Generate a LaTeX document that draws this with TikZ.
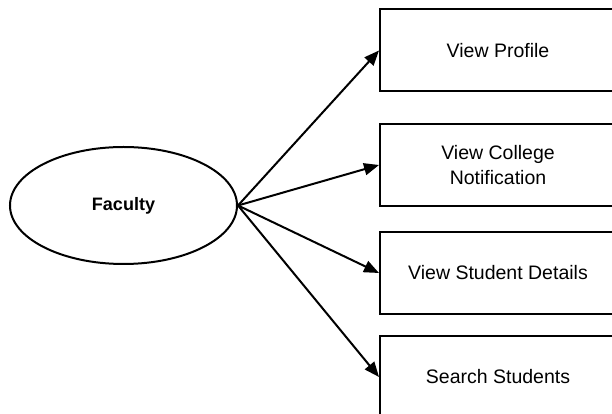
\documentclass[tikz,border=0pt]{standalone}
\usepackage{fontspec}
\setmainfont{Liberation Sans}
\usetikzlibrary{arrows.meta, positioning, shapes.geometric}
\tikzset{actor/.style={ellipse, draw, line width=2pt, minimum width=227pt, minimum height=117pt, inner sep=0pt, font=\fontsize{18}{22}\selectfont\bfseries},
  usecase/.style={rectangle, draw, line width=2pt, minimum width=236pt, minimum height=82pt, align=center, font=\fontsize{19.5}{24.5}\selectfont},
  >={Triangle[length=15pt, width=12pt]}}

\begin{document}
\begin{tikzpicture}[x=1pt, y=1pt]
            \useasboundingbox (0,0) rectangle (612,414);
            \clip (0,0) rectangle (612,414);
            \node[actor] (faculty) at (123.5,208.5) {Faculty};
            \node[usecase] (view_profile) at (498,363.5) {View Profile};
            \node[usecase, below=30.5pt of view_profile] (view_notification) {View College\\Notification};
            \node[usecase, below=24pt of view_notification] (view_details) {View Student Details};
            \node[usecase, below=20pt of view_details] (search_students) {Search Students};
            \draw[line width=2pt] (faculty.east) edge[->] (view_profile.west)
            (faculty.east) edge[->] (view_notification.west)
            (faculty.east) edge[->] (view_details.west)
            (faculty.east) edge[->] (search_students.west);
      \end{tikzpicture}
\end{document}
